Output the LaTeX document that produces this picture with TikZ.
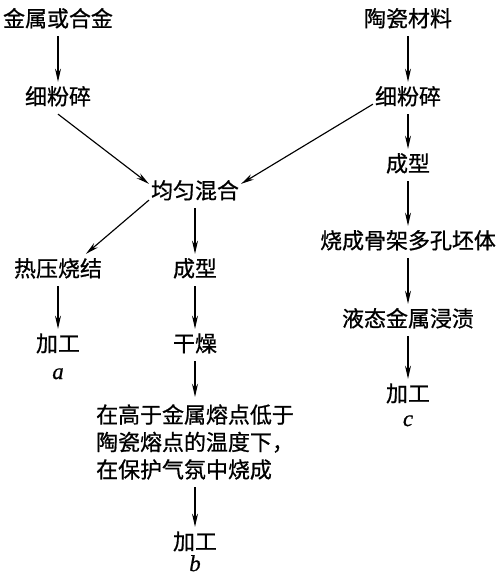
\documentclass[tikz,border=0pt]{standalone}
\usepackage{fontspec}
\newfontfamily\cjk[FakeBold=0.8]{Noto Sans CJK SC}
\newfontfamily\tagfont[FakeBold=0.6]{Liberation Serif}
\usetikzlibrary{arrows.meta, positioning}

\begin{document}
\begin{tikzpicture}[
    on grid,
    stage/.style={font=\cjk\fontsize{12.5pt}{15.6pt}\selectfont,
                  inner xsep=1pt, inner ysep=0.14cm,
                  text height=0.88em, text depth=0.12em},
    note/.style={font=\cjk\fontsize{12.5pt}{15.6pt}\selectfont,
                 align=left, inner xsep=1pt, inner ysep=0.14cm},
    tag/.style={font=\tagfont\fontsize{13pt}{15pt}\selectfont\itshape,
                inner sep=0pt, text height=1.6ex, text depth=0pt},
    arr/.style={-{Stealth[length=7.5pt, width=3.4pt]}, line width=0.65pt},
]
\useasboundingbox (0,0) rectangle (10.02,11.7);

% metal branch
\node[stage] (metal) at (1.16,11.3) {金属或合金};
\node[stage, below=1.56cm of metal] (mgrind) {细粉碎};

% ceramic branch
\node[stage] (ceram) at (8.16,11.3) {陶瓷材料};
\node[stage, below=1.56cm of ceram] (cgrind) {细粉碎};
\node[stage, below=1.34cm of cgrind] (cform) {成型};
\node[stage, below=1.54cm of cform] (skel) {烧成骨架多孔坯体};
\node[stage, below=1.56cm of skel] (infil) {液态金属浸渍};
\node[stage, below=1.5cm of infil] (workC) {加工};
\node[tag, below=0.5cm of workC] (tagC) {c};

% mixing
\node[stage, below right=1.88cm and 2.74cm of mgrind] (mix) {均匀混合};
\node[stage, below left=1.56cm and 2.74cm of mix] (hot) {热压烧结};
\node[stage, below=1.5cm of hot] (workA) {加工};
\node[tag, below=0.56cm of workA] (tagA) {a};

\node[stage, below=1.56cm of mix] (mform) {成型};
\node[stage, below=1.5cm of mform] (dry) {干燥};
\node[note, below=1.94cm of dry] (fire)
    {在高于金属熔点低于\\陶瓷熔点的温度下，\\在保护气氛中烧成};
\node[stage, below=2.02cm of fire] (workB) {加工};
\node[tag, below=0.44cm of workB] (tagB) {b};

\draw[arr] (metal) -- (mgrind);
\draw[arr] (mgrind.south) -- (mix.170);
\draw[arr] (ceram) -- (cgrind);
\draw[arr] (cgrind.190) -- (mix.10);
\draw[arr] (cgrind) -- (cform);
\draw[arr] (cform) -- (skel);
\draw[arr] (skel) -- (infil);
\draw[arr] (infil) -- (workC);

\draw[arr] (mix.190) -- (hot.30);
\draw[arr] (hot) -- (workA);
\draw[arr] (mix) -- (mform);
\draw[arr] (mform) -- (dry);
\draw[arr] (dry) -- (fire);
\draw[arr] (fire) -- (workB);
\end{tikzpicture}
\end{document}
